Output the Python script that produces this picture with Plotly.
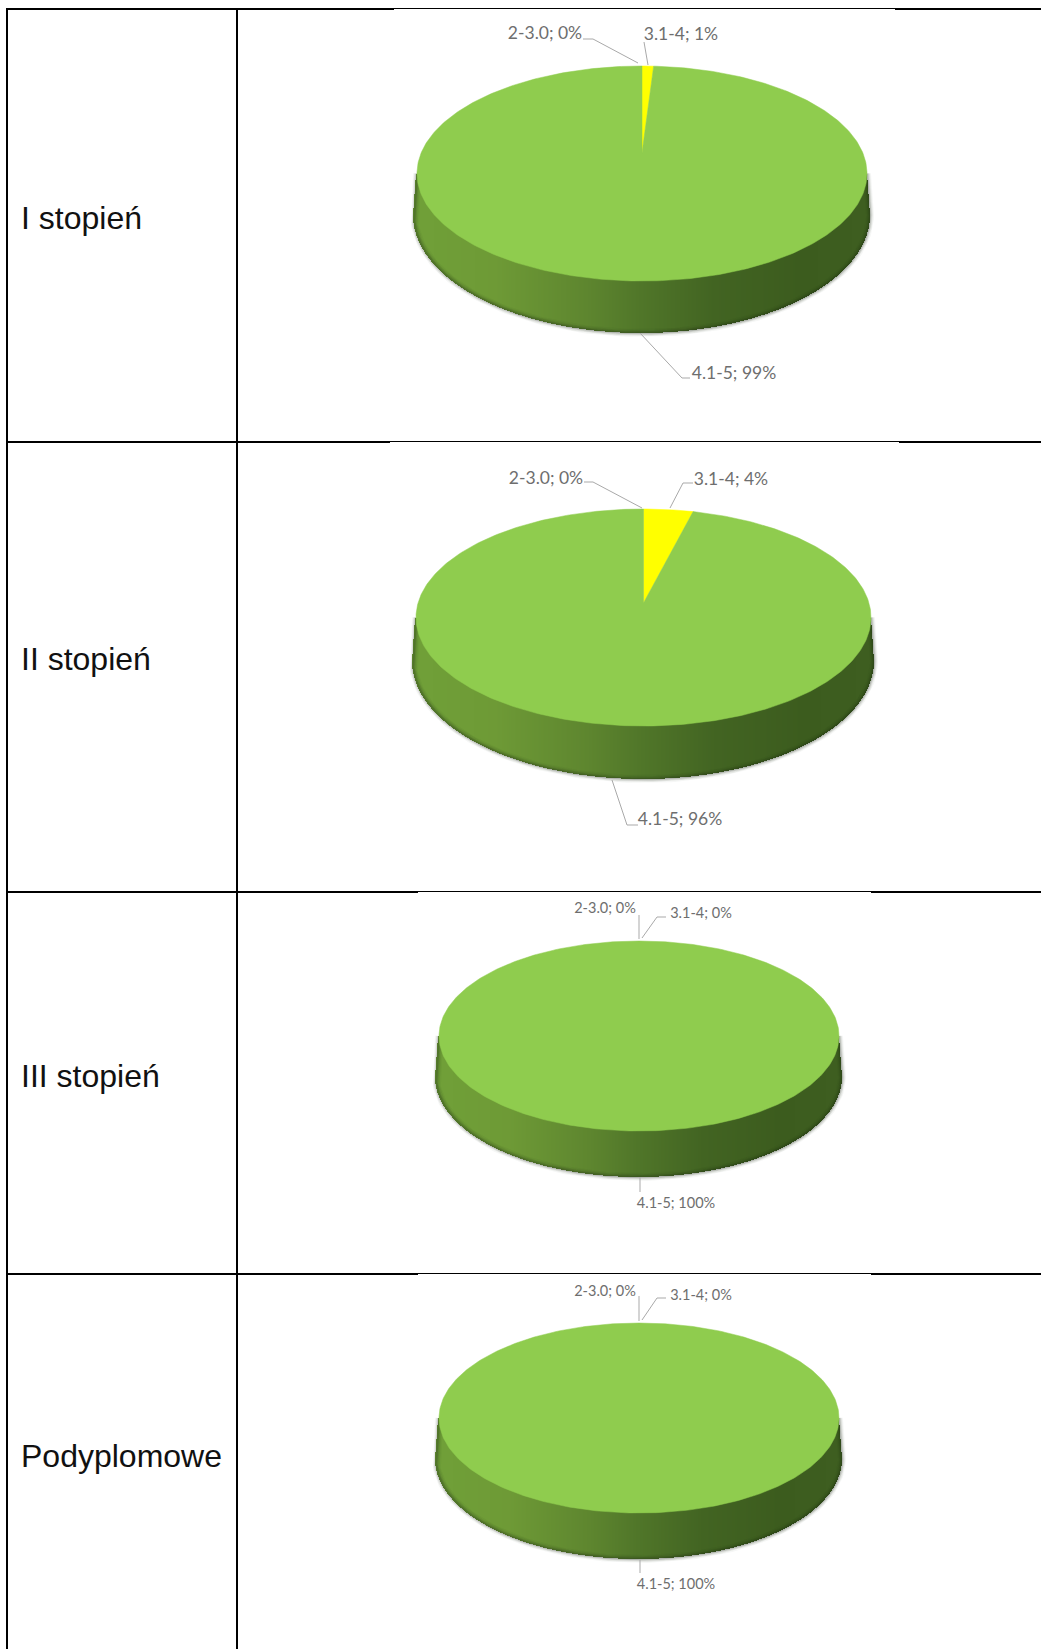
import numpy as np
import plotly.graph_objects as go

# Study levels and the share of each grade band, in percent
levels = ["I stopień", "II stopień", "III stopień", "Podyplomowe"]
bands = ["2-3.0", "3.1-4", "4.1-5"]
share_low = [0, 0, 0, 0]
share_mid = [1, 4, 0, 0]
share_high = [99, 96, 100, 100]

slice_colors = ["#C00000", "#FFFF00", "#8FCC4E"]
LABEL_GREY = "#6E6E6E"
LEADER_GREY = "#A9A9A9"

# Projected discs: widest x range of the top face, its top and bottom y, lower rim y
discs = [
    dict(left=417, right=867, top=66, bottom=281, rim=333, grow=3, rim_mid=215, apex=0.405),
    dict(left=416, right=871, top=509, bottom=726, rim=779, grow=3, rim_mid=661, apex=0.433),
    dict(left=439, right=839, top=941, bottom=1131, rim=1177, grow=3, rim_mid=1077, apex=0.405),
    dict(left=439, right=839, top=1323, bottom=1513, rim=1559, grow=3, rim_mid=1459, apex=0.405),
]

# Label centres and leader polylines for each band of each disc
label_xy = [
    [(545, 34.5), (681, 35.5), (734, 374.5)],
    [(546, 479.5), (731, 480.5), (680, 820.5)],
    [(605, 909.5), (701, 914.5), (676, 1204.5)],
    [(605, 1292.5), (701, 1296.5), (676, 1585.5)],
]
label_size = [17.5, 17.5, 14.5, 14.5]
leaders = [
    [[(583, 39), (593, 39), (638, 63)], [(644, 42), (648, 65)], [(640, 333), (682, 378), (690, 378)]],
    [[(584, 482), (593, 482), (642, 508)], [(693, 483), (683, 483), (670, 508)], [(612, 780), (627, 825), (638, 825)]],
    [[(639, 915), (639, 939)], [(666, 917), (657, 917), (642, 938)], [(640, 1177), (640, 1192)]],
    [[(639, 1296), (639, 1321)], [(666, 1298), (657, 1298), (642, 1320)], [(640, 1560), (640, 1573)]],
]

# Table rules: y of the heavy line, and the stretch where the line is thin
rule_ys = [9, 442, 892, 1274]
rule_thin = [(394, 895), (390, 899), (418, 871), (418, 871)]
col_xs = [7, 237]
level_y = [220.5, 661.5, 1078.5, 1458.5]

# Side shading stops, left to right across the disc
shade_pos = [0.0, 0.18, 0.38, 0.5, 0.66, 0.85, 1.0]
shade_rgb = np.array([
    (112, 160, 56), (110, 154, 54), (94, 134, 47), (80, 118, 41),
    (66, 100, 34), (60, 92, 30), (62, 94, 32),
], dtype=float)


def projector(d):
    """Map a pie angle in degrees (clockwise from the back) to page coordinates."""
    half = (d["right"] - d["left"]) / 2
    cx = (d["right"] + d["left"]) / 2
    up = d["apex"] * (d["bottom"] - d["top"])
    down = (d["bottom"] - d["top"]) - up
    tilt = (down - up) / (down + up)
    depth = up * (1 + tilt)
    span = half * np.sqrt(1 - tilt ** 2)
    apex_y = d["top"] + up

    def project(deg):
        th = np.radians(deg)
        w = 1 + tilt * np.cos(th)
        return cx + span * np.sin(th) / w, apex_y - depth * np.cos(th) / w

    return project, cx, apex_y


fig = go.Figure()

for i, d in enumerate(discs):
    project, cx, apex_y = projector(d)
    top_cy = (d["top"] + d["bottom"]) / 2
    top_rx = (d["right"] - d["left"]) / 2
    low_rx = top_rx + d["grow"]
    low_ry = d["rim"] - d["rim_mid"]

    # Side wall: one-pixel columns shaded by position across the disc
    xs = np.arange(cx - low_rx, cx + low_rx, 1.0) + 0.5
    t = (xs - (cx - low_rx)) / (2 * low_rx)
    offset = np.abs(xs - cx)
    lower = d["rim_mid"] + low_ry * np.sqrt(np.clip(1 - (offset / low_rx) ** 2, 0, 1))
    # Outside the top face the silhouette slants from its widest point to the rim
    slant = np.clip((offset - top_rx) / d["grow"], 0, 1)
    upper = top_cy + (d["rim_mid"] - top_cy) * slant
    rgb = np.stack([np.interp(t, shade_pos, shade_rgb[:, k]) for k in range(3)], axis=1)
    fig.add_trace(go.Bar(
        x=xs, y=lower - upper, base=upper, width=1.05,
        marker=dict(color=[f"rgb({r:.0f},{g:.0f},{b:.0f})" for r, g, b in rgb], line_width=0),
        hoverinfo="skip", showlegend=False,
    ))

    # Soft dark edge round the lower rim and up the silhouette
    phi = np.linspace(0, np.pi, 200)
    rim_x = np.r_[cx - top_rx, cx - low_rx * np.cos(phi), cx + top_rx]
    rim_y = np.r_[top_cy, d["rim_mid"] + low_ry * np.sin(phi), top_cy]
    for width, alpha in [(8, 0.04), (6, 0.07), (4, 0.11), (2, 0.18)]:
        fig.add_trace(go.Scatter(
            x=rim_x, y=rim_y, mode="lines",
            line=dict(color=f"rgba(30,40,20,{alpha})", width=width),
            hoverinfo="skip", showlegend=False,
        ))

    # Top face: slices run clockwise from the back of the disc
    values = [share_low[i], share_mid[i], share_high[i]]
    start = 0.0
    for band, v, col in zip(bands, values, slice_colors):
        if v > 0:
            sweep = np.linspace(start, start + 3.6 * v, max(int(v * 4), 8))
            px, py = project(sweep)
            if v < 100:
                px = np.r_[cx, px, cx]
                py = np.r_[apex_y, py, apex_y]
            fig.add_trace(go.Scatter(
                x=px, y=py, mode="lines", fill="toself", fillcolor=col,
                line=dict(color=col, width=0.5),
                hoverinfo="skip", showlegend=False,
            ))
        start += 3.6 * v

    # Data labels with their leader lines
    for band, v, (lx, ly), path in zip(bands, values, label_xy[i], leaders[i]):
        fig.add_trace(go.Scatter(
            x=[p[0] for p in path], y=[p[1] for p in path], mode="lines",
            line=dict(color=LEADER_GREY, width=1),
            hoverinfo="skip", showlegend=False,
        ))
        fig.add_trace(go.Scatter(
            x=[lx], y=[ly], mode="text", text=[f"{band}; {v}%"],
            textposition="middle center",
            textfont=dict(family="Lato", size=label_size[i], color=LABEL_GREY),
            hoverinfo="skip", showlegend=False,
        ))

# Table rules: thin across the middle of the chart column
for y, (thin_a, thin_b) in zip(rule_ys, rule_thin):
    for xa, xb, width, yy in [
        (col_xs[0] - 1, thin_a, 2, y),
        (thin_a, thin_b, 1, y - 0.5),
        (thin_b, 1041, 2, y),
    ]:
        fig.add_trace(go.Scatter(
            x=[xa, xb], y=[yy, yy], mode="lines", line=dict(color="#000000", width=width),
            hoverinfo="skip", showlegend=False,
        ))
for x in col_xs:
    fig.add_trace(go.Scatter(
        x=[x, x], y=[rule_ys[0] - 1, 1649], mode="lines", line=dict(color="#000000", width=2),
        hoverinfo="skip", showlegend=False,
    ))

# Row headings
fig.add_trace(go.Scatter(
    x=[21] * len(levels), y=level_y, mode="text", text=levels,
    textposition="middle right",
    textfont=dict(family="Liberation Sans", size=32, color="#111111"),
    hoverinfo="skip", showlegend=False,
))

fig.update_layout(
    width=1041, height=1649, margin=dict(l=0, r=0, t=0, b=0),
    paper_bgcolor="#FFFFFF", plot_bgcolor="#FFFFFF",
    barmode="overlay", bargap=0, showlegend=False,
    xaxis=dict(range=[0, 1041], visible=False, fixedrange=True),
    yaxis=dict(range=[1649, 0], visible=False, fixedrange=True),
)
fig.write_html("out.html")
